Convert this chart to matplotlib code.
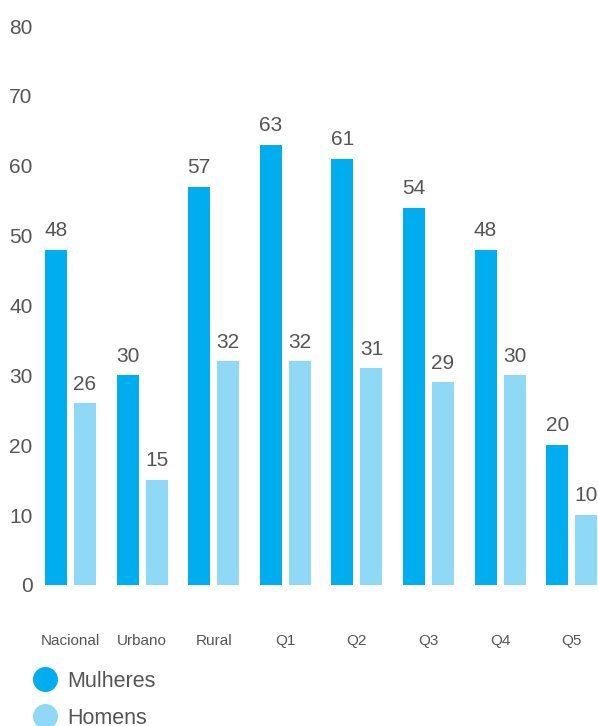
import matplotlib
matplotlib.use("Agg")
import matplotlib.pyplot as plt
from matplotlib.lines import Line2D
import numpy as np

categories = ["Nacional", "Urbano", "Rural", "Q1", "Q2", "Q3", "Q4", "Q5"]
mulheres = [48, 30, 57, 63, 61, 54, 48, 20]
homens = [26, 15, 32, 32, 31, 29, 30, 10]
series_names = ["Mulheres", "Homens"]
yticks = [0, 10, 20, 30, 40, 50, 60, 70, 80]

dark = "#00AEEF"
light = "#8FD9F7"
txt = "#555555"

plt.rcParams["font.family"] = ["Liberation Sans", "DejaVu Sans"]

W, H = 598, 726
fig = plt.figure(figsize=(W / 100, H / 100), dpi=100)
ax_left_px, ax_right_px = 38, 598
ax_bottom_px, ax_top_px = 585, 26
ax = fig.add_axes([ax_left_px / W, 1 - ax_bottom_px / H,
                   (ax_right_px - ax_left_px) / W, (ax_bottom_px - ax_top_px) / H])

step = 71.6
x = np.arange(len(categories))
off = 14.5 / step
bw = 22 / step
ax.bar(x - off, mulheres, width=bw, color=dark, label=series_names[0])
ax.bar(x + off, homens, width=bw, color=light, label=series_names[1])

for xi, v in zip(x - off, mulheres):
    ax.text(xi, v + 1.4, str(v), ha="center", va="bottom", fontsize=15, color=txt, clip_on=False)
for xi, v in zip(x + off, homens):
    ax.text(xi, v + 1.4, str(v), ha="center", va="bottom", fontsize=15, color=txt, clip_on=False)

ax.set_xlim((ax_left_px - 70.5) / step, (ax_right_px - 70.5) / step)
ax.set_ylim(0, 80)
ax.set_yticks(yticks)
ax.set_yticklabels([str(t) for t in yticks], fontsize=15, color=txt)
ax.set_xticks(x)
ax.set_xticklabels(categories, fontsize=11, color=txt)
ax.tick_params(axis="y", length=0, pad=4)
ax.tick_params(axis="x", length=0, pad=35)
for s in ax.spines.values():
    s.set_visible(False)

handles = [Line2D([], [], marker="o", linestyle="none", markersize=17, color=dark, label=series_names[0]),
           Line2D([], [], marker="o", linestyle="none", markersize=17, color=light, label=series_names[1])]
leg = fig.legend(handles=handles, loc="upper left", bbox_to_anchor=(32 / W, 1 - 671 / H),
                 frameon=False, fontsize=15.5, handletextpad=0.42, labelspacing=0.72,
                 borderpad=0, borderaxespad=0, handlelength=1.2)
for t in leg.get_texts():
    t.set_color(txt)

fig.savefig("out.png", dpi=100)
